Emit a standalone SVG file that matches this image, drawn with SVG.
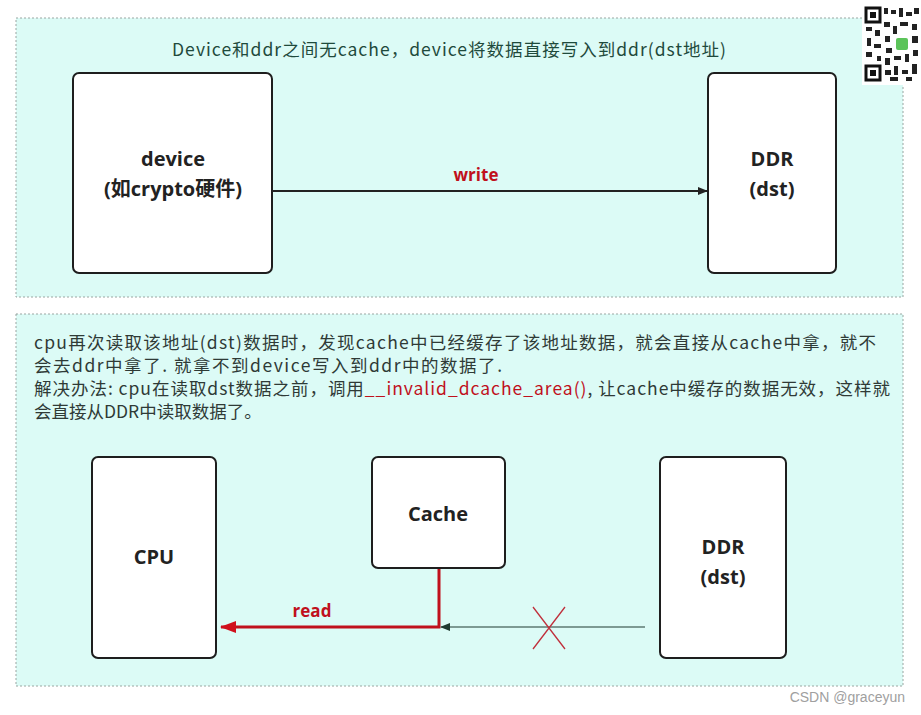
<svg xmlns="http://www.w3.org/2000/svg" width="921" height="715" viewBox="0 0 921 715">
<style>
.panel{fill:#dcfbf6;stroke:#9aa6a2;stroke-width:1;stroke-dasharray:2 2}
.box{fill:#ffffff;stroke:#1e1e1e;stroke-width:2}
.lbl{font-family:"Open Sans","Noto Sans","Noto Sans CJK SC",sans-serif;font-weight:bold;font-size:20px;fill:#222;text-anchor:middle}
.note{font-family:"Noto Sans CJK SC","Noto Sans",sans-serif;font-size:17.5px;fill:#2f3a36}
.red{fill:#c0101c}
</style>
<defs>
<marker id="ab" markerWidth="10" markerHeight="8" refX="9" refY="4" orient="auto" markerUnits="userSpaceOnUse"><path d="M0,0 L10,4 L0,8 z" fill="#222"/></marker>
<marker id="ar" markerWidth="16" markerHeight="12" refX="15" refY="6" orient="auto" markerUnits="userSpaceOnUse"><path d="M0,0 L16,6 L0,12 z" fill="#d0101c"/></marker>
<marker id="ag" markerWidth="10" markerHeight="8" refX="9" refY="4" orient="auto" markerUnits="userSpaceOnUse"><path d="M0,0 L10,4 L0,8 z" fill="#1f3a30"/></marker>
</defs>
<rect width="921" height="715" fill="#ffffff"/>
<rect class="panel" x="16" y="18" width="887" height="279"/>
<rect class="panel" x="16" y="314" width="887" height="372"/>

<text x="172" y="56" textLength="554" lengthAdjust="spacing" class="note" style="font-size:17.5px;fill:#1f4a3c">Device和ddr之间无cache，device将数据直接写入到ddr(dst地址)</text>

<g id="device"><rect class="box" x="73" y="73" width="199" height="200" rx="6"/><text class="lbl" x="173" y="166">device</text><text class="lbl" x="173" y="196">(如crypto硬件)</text></g>
<g id="ddr-top"><rect class="box" x="708" y="73" width="128" height="200" rx="6"/><text class="lbl" x="772" y="166">DDR</text><text class="lbl" x="772" y="196">(dst)</text></g>

<g id="notes" class="note">
<text x="34" y="349" textLength="842" lengthAdjust="spacing">cpu再次读取该地址(dst)数据时，发现cache中已经缓存了该地址数据，就会直接从cache中拿，就不</text>
<text x="34" y="372" textLength="468" lengthAdjust="spacing">会去ddr中拿了. 就拿不到device写入到ddr中的数据了.</text>
<text x="34" y="395" textLength="856" lengthAdjust="spacing">解决办法: cpu在读取dst数据之前，调用<tspan class="red">__invalid_dcache_area()</tspan>, 让cache中缓存的数据无效，这样就</text>
<text x="34" y="418">会直接从DDR中读取数据了。</text>
</g>

<g id="cpu"><rect class="box" x="92" y="457" width="124" height="201" rx="6"/><text class="lbl" x="154" y="564">CPU</text></g>
<g id="cache"><rect class="box" x="372" y="457" width="133" height="111" rx="6"/><text class="lbl" x="438" y="521">Cache</text></g>
<g id="ddr-bottom"><rect class="box" x="660" y="457" width="126" height="201" rx="6"/><text class="lbl" x="723" y="554">DDR</text><text class="lbl" x="723" y="584">(dst)</text></g>

<g id="connectors">
<line x1="272" y1="191" x2="707" y2="191" stroke="#222" stroke-width="2" marker-end="url(#ab)"/>
<text x="476" y="181" text-anchor="middle" class="lbl red" style="font-size:17px">write</text>
<path d="M439,569 L439,627 L221,627" fill="none" stroke="#c0101c" stroke-width="3" marker-end="url(#ar)"/>
<text x="312" y="617" text-anchor="middle" class="lbl red" style="font-size:17px">read</text>
<line x1="645" y1="627" x2="441" y2="627" stroke="#1f3a30" stroke-width="1.2" marker-end="url(#ag)"/>
<path d="M533,607 L565,649 M565,607 L533,649" stroke="#c0303c" stroke-width="1.3" fill="none"/>
</g>

<g id="qr">
<rect x="862" y="5" width="59" height="80" fill="#ffffff"/>
<rect x="866" y="8" width="14" height="14" fill="none" stroke="#111" stroke-width="3"/>
<rect x="870" y="12" width="6" height="6" fill="#111"/>
<rect x="866" y="66" width="14" height="14" fill="none" stroke="#111" stroke-width="3"/>
<rect x="870" y="70" width="6" height="6" fill="#111"/>
<rect x="884" y="8" width="4" height="6" fill="#222"/><rect x="891" y="10" width="5" height="4" fill="#222"/><rect x="899" y="8" width="4" height="9" fill="#222"/><rect x="906" y="12" width="6" height="4" fill="#222"/><rect x="914" y="8" width="5" height="6" fill="#222"/>
<rect x="866" y="27" width="6" height="4" fill="#222"/><rect x="875" y="30" width="5" height="6" fill="#222"/><rect x="884" y="22" width="6" height="5" fill="#222"/><rect x="893" y="26" width="4" height="8" fill="#222"/><rect x="900" y="22" width="8" height="4" fill="#222"/><rect x="912" y="24" width="5" height="6" fill="#222"/>
<rect x="867" y="38" width="4" height="8" fill="#222"/><rect x="874" y="44" width="7" height="4" fill="#222"/><rect x="885" y="36" width="5" height="6" fill="#222"/><rect x="886" y="48" width="6" height="5" fill="#222"/><rect x="912" y="36" width="6" height="7" fill="#222"/>
<rect x="866" y="52" width="6" height="5" fill="#222"/><rect x="877" y="56" width="4" height="5" fill="#222"/><rect x="885" y="58" width="5" height="7" fill="#222"/><rect x="894" y="56" width="7" height="4" fill="#222"/><rect x="905" y="54" width="4" height="8" fill="#222"/><rect x="913" y="50" width="5" height="6" fill="#222"/>
<rect x="885" y="70" width="6" height="5" fill="#222"/><rect x="894" y="66" width="4" height="9" fill="#222"/><rect x="902" y="70" width="6" height="4" fill="#222"/><rect x="912" y="64" width="5" height="10" fill="#222"/><rect x="890" y="77" width="8" height="4" fill="#222"/><rect x="906" y="77" width="6" height="4" fill="#222"/>
<rect x="896" y="38" width="12" height="12" rx="2" fill="#5cc45a"/>
</g>

<text x="905" y="702" text-anchor="end" style="font-family:'Liberation Sans',Arial,sans-serif;font-size:14px;fill:#a0a0a0">CSDN @graceyun</text>
</svg>
